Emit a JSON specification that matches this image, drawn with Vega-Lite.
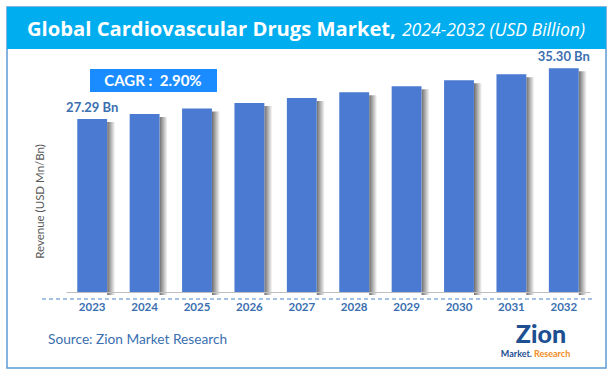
{
  "$schema": "https://vega.github.io/schema/vega-lite/v6.json",
  "autosize": {"type": "none"},
  "width": 524,
  "height": 232,
  "padding": {"left": 66, "top": 60, "right": 24, "bottom": 85},
  "background": "white",
  "config": {"view": {"stroke": null}, "font": "Lato"},
  "data": {"values": [
    {"year": "2023", "value": 27.29, "label": "27.29 Bn"},
    {"year": "2024", "value": 28.08, "label": ""},
    {"year": "2025", "value": 28.95, "label": ""},
    {"year": "2026", "value": 29.80, "label": ""},
    {"year": "2027", "value": 30.62, "label": ""},
    {"year": "2028", "value": 31.52, "label": ""},
    {"year": "2029", "value": 32.45, "label": ""},
    {"year": "2030", "value": 33.40, "label": ""},
    {"year": "2031", "value": 34.35, "label": ""},
    {"year": "2032", "value": 35.30, "label": "35.30 Bn"}
  ]},
  "encoding": {
    "x": {"field": "year", "type": "nominal", "sort": null,
      "scale": {"paddingInner": 0.43, "paddingOuter": 0.215},
      "axis": {"title": null, "ticks": false, "domainColor": "#BFBFBF", "domainWidth": 1, "zindex": 1,
        "labelAngle": 0, "labelFont": "Lato", "labelFontWeight": "bold", "labelFontSize": 11.5,
        "labelColor": "#3A6FB0", "labelPadding": 9}},
    "y": {"field": "value", "type": "quantitative",
      "scale": {"domain": [0, 36.6], "nice": false, "zero": true},
      "axis": {"labels": false, "ticks": false, "domain": false, "grid": false, "zindex": 1,
        "title": "Revenue (USD Mn/Bn)", "titleColor": "#595959", "titleFontWeight": "normal",
        "titleFontSize": 11.5, "titleFont": "Lato", "titleX": -26, "titleY": 141,
        "titleAlign": "center", "titleBaseline": "middle", "titleAngle": -90}}
  },
  "layer": [
    {"mark": {"type": "rect", "fill": null, "fillOpacity": 0, "stroke": "#5B9BD5", "strokeWidth": 1.5},
     "encoding": {"x": {"value": -59}, "x2": {"value": 540}, "y": {"value": -53}, "y2": {"value": 308}}, "data": {"values": [{}]}},
    {"mark": {"type": "rect", "fill": "#00AEEF"},
     "encoding": {"x": {"value": -59}, "x2": {"value": 540}, "y": {"value": -53}, "y2": {"value": -11}}, "data": {"values": [{}]}},
    {"mark": {"type": "text", "align": "left", "baseline": "alphabetic", "fontWeight": "bold", "fontSize": 20.2, "color": "white", "font": "Open Sans", "text": "Global Cardiovascular Drugs Market,"},
     "encoding": {"x": {"value": -39}, "y": {"value": -24}}, "data": {"values": [{}]}},
    {"mark": {"type": "text", "align": "right", "baseline": "alphabetic", "fontStyle": "italic", "fontSize": 17.6, "color": "white", "font": "Open Sans", "text": "2024-2032 (USD Billion)"},
     "encoding": {"x": {"value": 519}, "y": {"value": -24}}, "data": {"values": [{}]}},
    {"mark": {"type": "rule", "stroke": "#4A86C8", "strokeDash": [4, 3], "strokeWidth": 1},
     "encoding": {"x": {"value": -24}, "x2": {"value": 526}, "y": {"value": 239}}, "data": {"values": [{}]}},
    {"mark": {"type": "bar", "width": 8, "xOffset": 19, "yOffset": 3,
      "color": {"gradient": "linear", "x1": 0, "x2": 1, "y1": 0, "y2": 0,
        "stops": [{"offset": 0, "color": "#6E6E6E"}, {"offset": 1, "color": "#FFFFFF"}]}}},
    {"mark": {"type": "bar", "color": "#4A7AD2"}},
    {"mark": {"type": "text", "dy": -4, "baseline": "bottom", "fontWeight": "bold", "fontSize": 13, "color": "#3A6FB0", "font": "Lato"},
     "encoding": {"text": {"field": "label"}}},
    {"mark": {"type": "rect", "fill": "#1A8CFF"},
     "encoding": {"x": {"value": 24}, "x2": {"value": 151}, "y": {"value": 9}, "y2": {"value": 32}}, "data": {"values": [{}]}},
    {"mark": {"type": "text", "align": "center", "baseline": "middle", "fontWeight": "bold", "fontSize": 15, "color": "white", "font": "Lato", "text": "CAGR :\u00a0 2.90%"},
     "encoding": {"x": {"value": 87}, "y": {"value": 21}}, "data": {"values": [{}]}},
    {"mark": {"type": "text", "align": "left", "baseline": "middle", "fontSize": 13.7, "color": "#3A6FB0", "font": "Lato", "text": "Source: Zion Market Research"},
     "encoding": {"x": {"value": -18}, "y": {"value": 280}}, "data": {"values": [{}]}},
    {"mark": {"type": "text", "align": "center", "baseline": "alphabetic", "fontWeight": "900", "fontSize": 25, "color": "#1D4F91", "font": "Lato", "text": "Zion"},
     "encoding": {"x": {"value": 475}, "y": {"value": 283}}, "data": {"values": [{}]}},
    {"mark": {"type": "text", "align": "right", "baseline": "alphabetic", "fontWeight": "bold", "fontSize": 9, "color": "#1D4F91", "font": "Lato", "text": "Market."},
     "encoding": {"x": {"value": 466}, "y": {"value": 297}}, "data": {"values": [{}]}},
    {"mark": {"type": "text", "align": "left", "baseline": "alphabetic", "fontWeight": "bold", "fontSize": 9, "color": "#F08C1E", "font": "Lato", "text": "Research"},
     "encoding": {"x": {"value": 468}, "y": {"value": 297}}, "data": {"values": [{}]}}
  ]
}
